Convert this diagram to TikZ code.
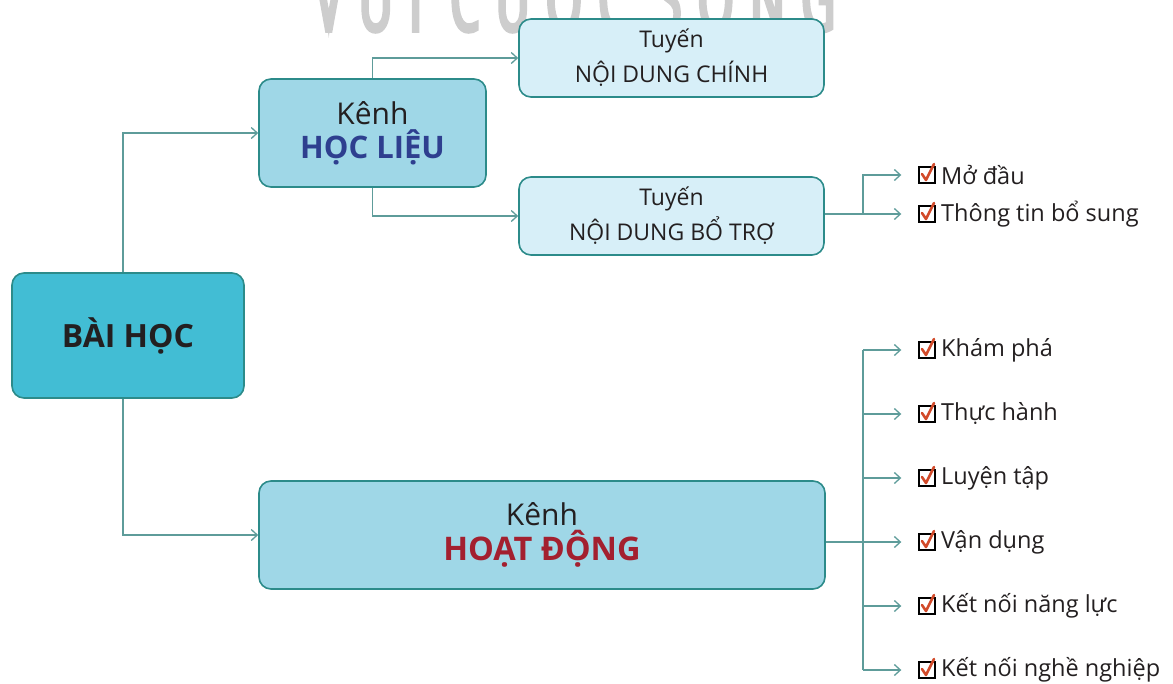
\documentclass[tikz,border=0pt]{standalone}
\usepackage{fontspec}
\setmainfont{Open Sans}
\newfontfamily\wmfont[FakeStretch=0.5,LetterSpace=18,FakeBold=4]{Open Sans}
\usetikzlibrary{arrows.meta,calc}
\definecolor{lineC}{HTML}{5E9C9A}
\definecolor{boxB}{HTML}{2C8B8A}
\definecolor{baiF}{HTML}{42BDD4}
\definecolor{kenhF}{HTML}{9FD7E7}
\definecolor{tuyenF}{HTML}{D7EFF8}
\definecolor{hlC}{HTML}{2E3F8F}
\definecolor{hdC}{HTML}{A3202F}
\definecolor{txtC}{HTML}{231F20}
\definecolor{checkC}{HTML}{D24A2A}
\definecolor{wmC}{HTML}{CDCDCD}
\newcommand{\fs}[2]{\fontsize{#1}{#2}\selectfont}
\tikzset{
  boxstyle/.style={rounded corners=12pt, line width=1.6pt, draw=boxB, align=center, inner sep=0pt, text=txtC},
  conn/.style={draw=lineC, line width=1.4pt},
  arr/.style={conn, -{Straight Barb[length=6pt,width=11pt,line width=1.3pt]}},
  cbox/.style={draw=black, line width=1.4pt, fill=white, minimum size=16pt, inner sep=0pt},
  itemtext/.style={anchor=west, inner sep=0pt, text=txtC, font=\fs{23.5}{28}},
}
\begin{document}
\begin{tikzpicture}[x=1pt,y=-1pt]
\useasboundingbox (0,0) rectangle (1173,683);
\clip (0,0) rectangle (1173,683);
% watermark
\node[anchor=base, text=wmC, inner sep=0pt, font=\wmfont\fs{92}{92}] (wm) at (575,31) {VUI CUỘC SỐNG};
% main boxes
\node[boxstyle, fill=baiF, minimum width=232pt, minimum height=125pt, font=\bfseries\fs{32}{38}] (bai) at (128,335.5) {BÀI HỌC};
\node[boxstyle, fill=kenhF, minimum width=227pt, minimum height=108pt, font=\fs{30}{34}] (hl) at (372.5,133) {Kênh\\{\fs{31}{34}\bfseries\color{hlC}HỌC LIỆU}};
\node[boxstyle, fill=kenhF, minimum width=566pt, minimum height=108pt, font=\fs{30}{35}] (hd) at (542,535) {Kênh\\{\fs{32.5}{35}\bfseries\color{hdC}HOẠT ĐỘNG}};
\node[boxstyle, fill=tuyenF, minimum width=305pt, minimum height=78pt, font=\fs{23}{35}] (ndc) at (671.5,58) {Tuyến\\NỘI DUNG CHÍNH};
\node[boxstyle, fill=tuyenF, minimum width=305pt, minimum height=78pt, font=\fs{23}{35}] (ndbt) at (671.5,216) {Tuyến\\NỘI DUNG BỔ TRỢ};
% connectors from BÀI HỌC
\draw[arr] ([xshift=-5pt]bai.north) |- (hl.west);
\draw[arr] ([xshift=-5pt]bai.south) |- (hd.west);
% connectors from HỌC LIỆU
\draw[arr] (hl.north) |- (ndc.west);
\draw[arr] (hl.south) |- (ndbt.west);
% items of NỘI DUNG BỔ TRỢ
\foreach \n/\y/\t in {a1/175/Mở đầu, a2/214/Thông tin bổ sung}{
  \node[cbox] (\n) at (927,\y) {};
  \draw[checkC, line width=2.6pt, line cap=round, line join=round] (\n.center) ++(-5,-1) -- ++(4,6) -- ++(8,-16);
  \node[itemtext] (\n t) at (941,\y) {\t};
}
\coordinate (hub1) at (863,214);
\draw[conn] (ndbt.east |- a2.west) -- (hub1);
\draw[arr, shorten >=17pt] (hub1) |- (a1.west);
\draw[arr, shorten >=17pt] (hub1) -- (a2.west);
% items of HOẠT ĐỘNG
\foreach \n/\y/\t in {b1/350/Khám phá, b2/414/Thực hành, b3/478/Luyện tập, b4/542/Vận dụng, b5/606/Kết nối năng lực, b6/670/Kết nối nghề nghiệp}{
  \node[cbox] (\n) at (927,\y) {};
  \draw[checkC, line width=2.6pt, line cap=round, line join=round] (\n.center) ++(-5,-1) -- ++(4,6) -- ++(8,-16);
  \node[itemtext] (\n t) at (941,\y) {\t};
}
\coordinate (hub2) at (863,542);
\coordinate (hubtop) at (863,350);
\coordinate (hubbot) at (863,670);
\draw[conn] (hd.east |- b4.west) -- (hub2);
\draw[conn] (hubtop) -- (hubbot);
\foreach \n in {b1,b2,b3,b4,b5,b6}{
  \draw[arr, shorten >=17pt] (hubtop |- \n.west) -- (\n.west);
}
\end{tikzpicture}
\end{document}
